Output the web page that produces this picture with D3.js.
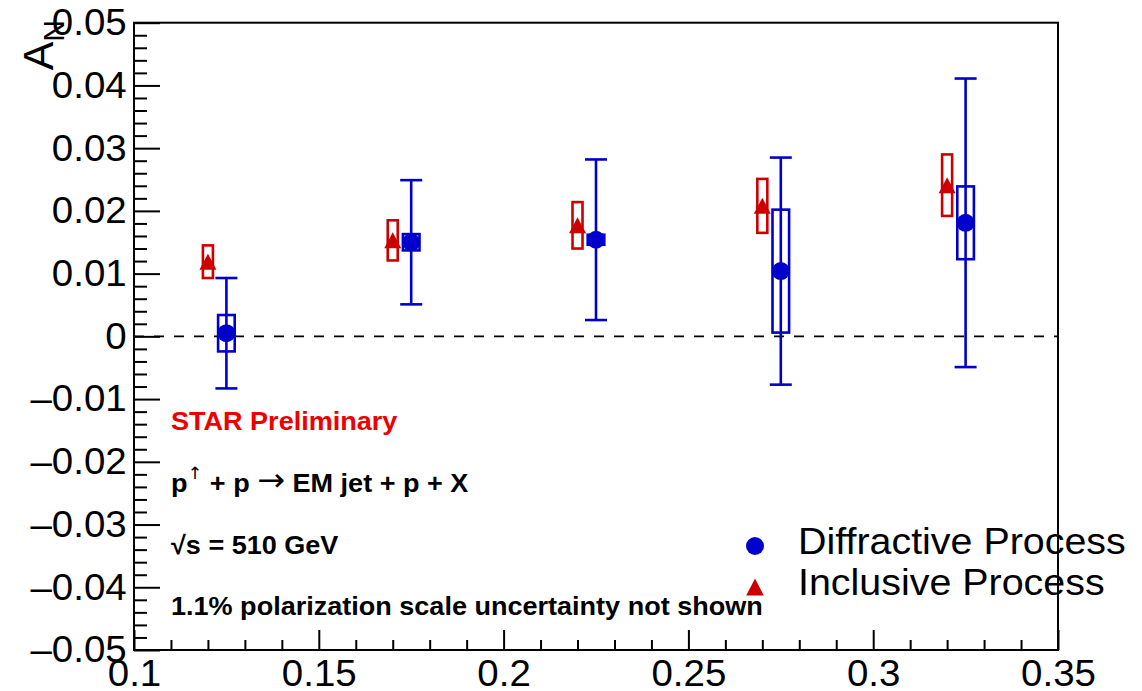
<!DOCTYPE html>
<html>
<head>
<meta charset="utf-8">
<script src="https://cdn.jsdelivr.net/npm/d3@7"></script>
<style>
  html, body { margin: 0; padding: 0; background: #fff; }
  svg { display: block; font-family: "Liberation Sans", Arial, Helvetica, sans-serif; }
</style>
</head>
<body>
<svg id="chart" width="1142" height="691"></svg>
<script>
// Single-spin asymmetry A_N vs x_F for EM jets (p↑ + p, √s = 510 GeV)
const seriesNames = ["Diffractive Process", "Inclusive Process"];

// Diffractive process: value, statistical error, systematic error
const xDiff    = [0.125, 0.175, 0.225, 0.275, 0.325];
const aDiff    = [0.0005, 0.0150, 0.0154, 0.0104, 0.0181];
const statDiff = [0.0088, 0.0099, 0.0128, 0.0181, 0.0230];
const sysDiff  = [0.0029, 0.0013, 0.0008, 0.0098, 0.0058];

// Inclusive process: value, systematic error
const xIncl   = [0.12, 0.17, 0.22, 0.27, 0.32];
const aIncl   = [0.0119, 0.0153, 0.0177, 0.0208, 0.0241];
const sysIncl = [0.0026, 0.0032, 0.0037, 0.0043, 0.0049];

// Axis ticks
const xTickValues = [0.1, 0.15, 0.2, 0.25, 0.3, 0.35];
const xTickLabels = ["0.1", "0.15", "0.2", "0.25", "0.3", "0.35"];
const yTickValues = [0.05, 0.04, 0.03, 0.02, 0.01, 0, -0.01, -0.02, -0.03, -0.04, -0.05];
const yTickLabels = ["0.05", "0.04", "0.03", "0.02", "0.01", "0",
                     "\u20130.01", "\u20130.02", "\u20130.03", "\u20130.04", "\u20130.05"];

const BLUE = "#0000cc", RED = "#cc0000";
const WIDE = 1.04;   // slightly widened lettering

const svg = d3.select("#chart");
const frame = { left: 134, right: 1058, top: 22.7, bottom: 650 };

const x = d3.scaleLinear().domain([0.1, 0.35]).range([frame.left, frame.right]);
const y = d3.scaleLinear().domain([-0.05, 0.05]).range([frame.bottom, frame.top]);

// minor ticks
const xMinor = d3.range(0, 26).map(i => +(0.1 + i * 0.01).toFixed(3))
  .filter(v => !xTickValues.some(t => Math.abs(t - v) < 1e-9));
const yMinor = d3.range(0, 51).map(i => +(-0.05 + i * 0.002).toFixed(4))
  .filter(v => !yTickValues.some(t => Math.abs(t - v) < 1e-9));

// zero line
svg.append("line")
  .attr("x1", frame.left).attr("x2", frame.right)
  .attr("y1", y(0)).attr("y2", y(0))
  .attr("stroke", "#000").attr("stroke-width", 1.6)
  .attr("stroke-dasharray", "10,10");

// frame
svg.append("rect")
  .attr("x", frame.left).attr("y", frame.top)
  .attr("width", frame.right - frame.left).attr("height", frame.bottom - frame.top)
  .attr("fill", "none").attr("stroke", "#000").attr("stroke-width", 2);

// y axis
svg.append("g").attr("transform", `translate(${frame.left},0)`)
  .call(d3.axisLeft(y).tickValues(yTickValues).tickSize(-26).tickPadding(7)
    .tickFormat((d, i) => yTickLabels[i]));
svg.append("g").attr("transform", `translate(${frame.left},0)`)
  .call(d3.axisLeft(y).tickValues(yMinor).tickSize(-13).tickFormat(""));

// x axis
svg.append("g").attr("transform", `translate(0,${frame.bottom})`)
  .call(d3.axisBottom(x).tickValues(xTickValues).tickSize(-20).tickPadding(10)
    .tickFormat((d, i) => xTickLabels[i]));
svg.append("g").attr("transform", `translate(0,${frame.bottom})`)
  .call(d3.axisBottom(x).tickValues(xMinor).tickSize(-10).tickFormat(""));

svg.selectAll(".domain").remove();
svg.selectAll(".tick line").attr("stroke", "#000").attr("stroke-width", 2);
svg.selectAll(".tick text").attr("font-size", 37).attr("fill", "#000")
  .attr("font-family", "'Liberation Sans', Arial, sans-serif")
  .attr("transform", `scale(${WIDE},1)`);

// y axis title A_N
const yt = svg.append("text")
  .attr("transform", "translate(53,20) rotate(-90)")
  .attr("text-anchor", "end").attr("font-size", 43).attr("fill", "#000");
yt.append("tspan").text("A");
yt.append("tspan").attr("font-size", 30).attr("dy", 11).text("N");

// inclusive: triangles, then systematic boxes
const inc = svg.append("g");
inc.selectAll("path.tri").data(xIncl).join("path")
  .attr("class", "tri")
  .attr("d", "M0,-8L8.5,8L-8.5,8Z")
  .attr("transform", (d, i) => `translate(${x(d)},${y(aIncl[i])})`)
  .attr("fill", RED);
inc.selectAll("rect").data(xIncl).join("rect")
  .attr("x", d => x(d) - 5)
  .attr("width", 10)
  .attr("y", (d, i) => y(aIncl[i] + sysIncl[i]))
  .attr("height", (d, i) => y(aIncl[i] - sysIncl[i]) - y(aIncl[i] + sysIncl[i]))
  .attr("fill", "none").attr("stroke", RED).attr("stroke-width", 2.6);

// diffractive: systematic boxes, stat error bars, markers
const dif = svg.append("g");
dif.selectAll("rect").data(xDiff).join("rect")
  .attr("x", d => x(d) - 8.3)
  .attr("width", 16.6)
  .attr("y", (d, i) => y(aDiff[i] + sysDiff[i]))
  .attr("height", (d, i) => y(aDiff[i] - sysDiff[i]) - y(aDiff[i] + sysDiff[i]))
  .attr("fill", "none").attr("stroke", BLUE).attr("stroke-width", 2.6);
dif.selectAll("line.bar").data(xDiff).join("line")
  .attr("class", "bar")
  .attr("x1", d => x(d)).attr("x2", d => x(d))
  .attr("y1", (d, i) => y(aDiff[i] + statDiff[i]))
  .attr("y2", (d, i) => y(aDiff[i] - statDiff[i]))
  .attr("stroke", BLUE).attr("stroke-width", 2.6);
[1, -1].forEach(s => {
  dif.selectAll(`line.cap${s}`).data(xDiff).join("line")
    .attr("class", `cap${s}`)
    .attr("x1", d => x(d) - 11).attr("x2", d => x(d) + 11)
    .attr("y1", (d, i) => y(aDiff[i] + s * statDiff[i]))
    .attr("y2", (d, i) => y(aDiff[i] + s * statDiff[i]))
    .attr("stroke", BLUE).attr("stroke-width", 2.6);
});
dif.selectAll("circle").data(xDiff).join("circle")
  .attr("cx", d => x(d)).attr("cy", (d, i) => y(aDiff[i]))
  .attr("r", 9).attr("fill", BLUE);

// legend
const leg = svg.append("g");
leg.append("circle").attr("cx", 755).attr("cy", 546).attr("r", 9).attr("fill", BLUE);
leg.append("path").attr("d", "M0,-8.5L8.8,8.5L-8.8,8.5Z")
  .attr("transform", "translate(755,587)").attr("fill", RED);
leg.selectAll("text").data(seriesNames).join("text")
  .attr("transform", (d, i) => `translate(798,${554 + i * 41}) scale(1.065,1)`)
  .attr("font-size", 37).attr("fill", "#000").text(d => d);

// annotations
const ann = svg.append("g").attr("font-weight", "bold").attr("font-size", 26);
const note = (yPos, fill) => ann.append("text")
  .attr("transform", `translate(171,${yPos}) scale(${WIDE},1)`).attr("fill", fill);
note(430, "#ee0000").text("STAR Preliminary");
const r = note(492, "#000");
r.append("tspan").text("p");
r.append("tspan").attr("font-size", 17).attr("font-weight", "normal")
  .attr("font-family", "'DejaVu Sans', sans-serif").attr("dy", -13).text("\u2191");
r.append("tspan").attr("dy", 13).text(" + p  ");
r.append("tspan").attr("font-weight", "normal").attr("font-size", 32)
  .attr("font-family", "'DejaVu Sans', sans-serif").attr("dy", -1).text("\u2192");
r.append("tspan").attr("dy", 1).text(" EM jet + p + X");
note(554, "#000").text("\u221As = 510 GeV");
note(615, "#000").text("1.1% polarization scale uncertainty not shown");
</script>
</body>
</html>
